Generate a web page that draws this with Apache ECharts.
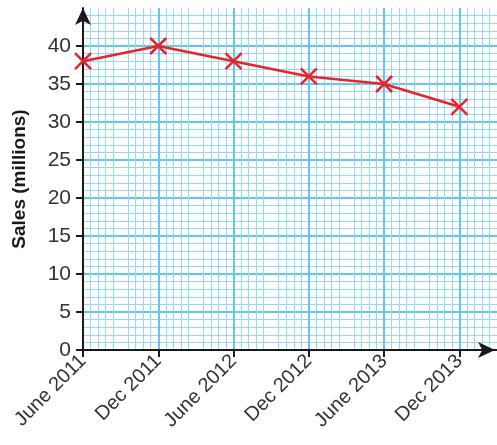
<!DOCTYPE html>
<html>
<head>
<meta charset="utf-8">
<script src="https://cdn.jsdelivr.net/npm/echarts@6/dist/echarts.min.js"></script>
<style>html,body{margin:0;padding:0;background:#fff;}#c{width:497px;height:445px;}</style>
</head>
<body>
<div id="c"></div>
<script>
const categories = ['June 2011', 'Dec 2011', 'June 2012', 'Dec 2012', 'June 2013', 'Dec 2013'];
const sales = [38, 40, 38, 36, 35, 32];
const yTicks = [0, 5, 10, 15, 20, 25, 30, 35, 40];

const STEP = 10; // grid units per category
const catPos = categories.map((c, i) => i * STEP);
const data = sales.map((v, i) => [catPos[i], v]);

const chart = echarts.init(document.getElementById('c'), null, {renderer: 'canvas'});
const font = '"Liberation Sans", Arial, sans-serif';
const major = {color: '#62c7f0', width: 2};
const minor = {color: '#96d9f6', width: 1};
chart.setOption({
  animation: false,
  grid: {left: 83, top: 8, width: 416, bottom: 95, containLabel: false},
  xAxis: {
    type: 'value', min: 0, max: 55, interval: 5,
    axisLine: {show: true, lineStyle: {color: '#1a1a1a', width: 2}, symbol: ['none', 'arrow'], symbolSize: [12, 17], symbolOffset: [0, -2]},
    axisTick: {show: true, length: 7, lineStyle: {color: '#1a1a1a', width: 2}, customValues: catPos},
    axisLabel: {
      customValues: catPos, rotate: 45, margin: 8, color: '#333', fontSize: 20, fontFamily: font,
      formatter: v => categories[Math.round(v / STEP)] || ''
    },
    splitLine: {show: true, lineStyle: major},
    minorTick: {show: false, splitNumber: 5},
    minorSplitLine: {show: true, lineStyle: minor}
  },
  yAxis: {
    type: 'value', min: 0, max: 45, interval: 5,
    name: 'Sales (millions)', nameLocation: 'middle', nameGap: 54, nameRotate: 90,
    nameTextStyle: {fontSize: 19, fontWeight: 'bold', color: '#1a1a1a', fontFamily: font},
    axisLine: {show: true, lineStyle: {color: '#1a1a1a', width: 2}, symbol: ['none', 'arrow'], symbolSize: [12, 17], symbolOffset: [0, 0]},
    axisTick: {show: true, length: 7, lineStyle: {color: '#1a1a1a', width: 2}, customValues: yTicks},
    axisLabel: {customValues: yTicks, margin: 12, color: '#333', fontSize: 21, fontFamily: font},
    splitLine: {show: true, lineStyle: major},
    minorTick: {show: false, splitNumber: 5},
    minorSplitLine: {show: true, lineStyle: minor}
  },
  series: [{
    type: 'line', data: data,
    lineStyle: {color: '#e8242b', width: 2.5},
    symbol: 'path://M0,0L10,10M10,0L0,10', symbolSize: 16,
    itemStyle: {color: 'none', borderColor: '#e8242b', borderWidth: 2.5},
    z: 5
  }]
});
</script>
</body>
</html>
